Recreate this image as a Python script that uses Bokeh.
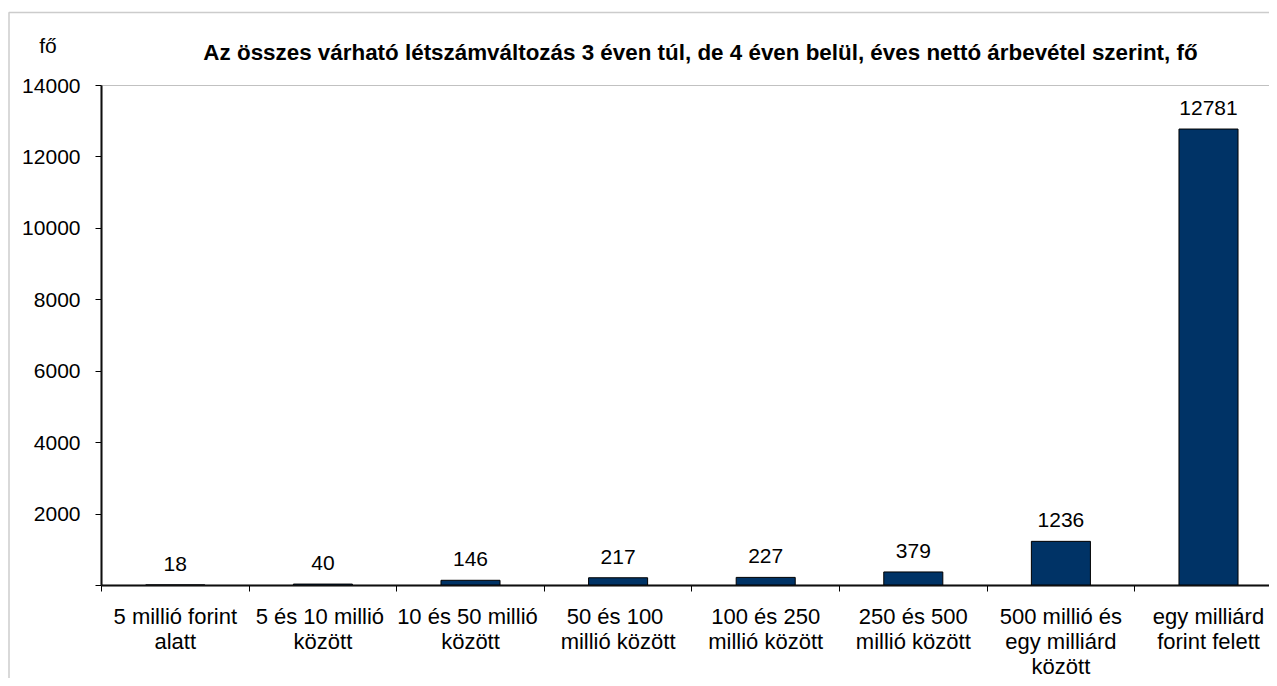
from bokeh.plotting import figure
from bokeh.models import Range1d, FixedTicker, Label, BoxAnnotation, ColumnDataSource
from bokeh.core.properties import value
from bokeh.embed import file_html
from bokeh.resources import INLINE

categories = [
    "5 millió forint\nalatt",
    "5 és  10 millió\nközött",
    "10 és  50 millió\nközött",
    "50 és  100\nmillió között",
    "100 és 250\nmillió között",
    "250 és 500\nmillió között",
    "500 millió és\negy milliárd\nközött",
    "egy milliárd\nforint felett",
]
values = [18, 40, 146, 217, 227, 379, 1236, 12781]
y_ticks = [0, 2000, 4000, 6000, 8000, 10000, 12000, 14000]
title_text = "Az összes várható létszámváltozás 3 éven túl, de 4 éven belül, éves nettó árbevétel szerint, fő"
unit_text = "fő"

FONT = "Liberation Sans"
W, H = 1269, 678
AX_X, AX_TOP, AX_Y = 101, 85, 585      # pixel positions of plot area
CAT_PX = 147.6
Y_MAX = 14000
Y_PER_PX = Y_MAX / (AX_Y - AX_TOP)

def xd(px):
    return (px - AX_X) / CAT_PX

def yd(py):
    return (AX_Y - py) * Y_PER_PX

n = len(values)
centers = [i + 0.5 for i in range(n)]
bounds = [i for i in range(n + 1)]
labels = [str(v) for v in values]
src = ColumnDataSource(dict(x=centers, top=values, lab=labels))

p = figure(width=W, height=H, output_backend="svg", toolbar_location=None,
           x_range=Range1d(xd(0), xd(W)), y_range=Range1d(yd(H), yd(0)),
           min_border=0, min_border_left=0, min_border_right=0,
           min_border_top=0, min_border_bottom=0)
p.title = None
p.outline_line_color = None
p.grid.visible = False
p.background_fill_color = "white"
p.border_fill_color = "white"

# outer chart frame (only its top and left edges are inside the picture)
p.add_layout(BoxAnnotation(left=xd(8.5), top=yd(12), right=xd(W + 50), bottom=yd(H + 50),
                           fill_color=None, line_color="#555555", line_width=1.5))
# plot area border
p.add_layout(BoxAnnotation(left=0, top=Y_MAX, right=xd(W + 50), bottom=0,
                           fill_color=None, line_color="#333333", line_width=1))

p.vbar(x="x", top="top", width=0.4, source=src, fill_color="#003366",
       line_color="black", line_width=1)
p.text(x="x", y="top", text="lab", source=src, text_align="center",
       text_baseline="alphabetic", y_offset=-21, text_font=value(FONT),
       text_font_size="21px", text_color="black")

xa = p.xaxis[0]
xa.fixed_location = 0
xa.bounds = (0, n)
xa.ticker = FixedTicker(ticks=centers, minor_ticks=bounds)
xa.major_label_overrides = {c: lab for c, lab in zip(centers, categories)}
xa.major_tick_line_color = None
xa.major_tick_out = 6
xa.major_tick_in = 0
xa.minor_tick_out = 6
xa.minor_tick_in = 0
xa.minor_tick_line_color = "black"
xa.axis_line_color = "black"
xa.axis_line_width = 2
xa.major_label_standoff = 12
xa.major_label_text_font = FONT
xa.major_label_text_font_size = "22px"
xa.major_label_text_line_height = 1.0
xa.major_label_text_color = "black"
xa.major_label_text_align = "center"

ya = p.yaxis[0]
ya.fixed_location = 0
ya.bounds = (0, Y_MAX)
ya.ticker = FixedTicker(ticks=y_ticks, minor_ticks=[])
ya.major_label_overrides = {0: ""}
ya.major_tick_out = 6
ya.major_tick_in = 0
ya.major_tick_line_color = "black"
ya.axis_line_color = "black"
ya.axis_line_width = 2
ya.major_label_standoff = 15
ya.major_label_text_font = FONT
ya.major_label_text_font_size = "21px"
ya.major_label_text_color = "black"

p.add_layout(Label(x=xd(47.5), y=yd(45), text=unit_text, text_align="center",
                   text_baseline="alphabetic", text_font=FONT,
                   text_font_size="21px", text_color="black"))
p.add_layout(Label(x=xd(700), y=yd(52), text=title_text, text_align="center",
                   text_baseline="alphabetic", text_font=FONT, text_font_style="bold",
                   text_font_size="22.4px", text_color="black"))

open("out.html", "w").write(file_html(p, INLINE))
